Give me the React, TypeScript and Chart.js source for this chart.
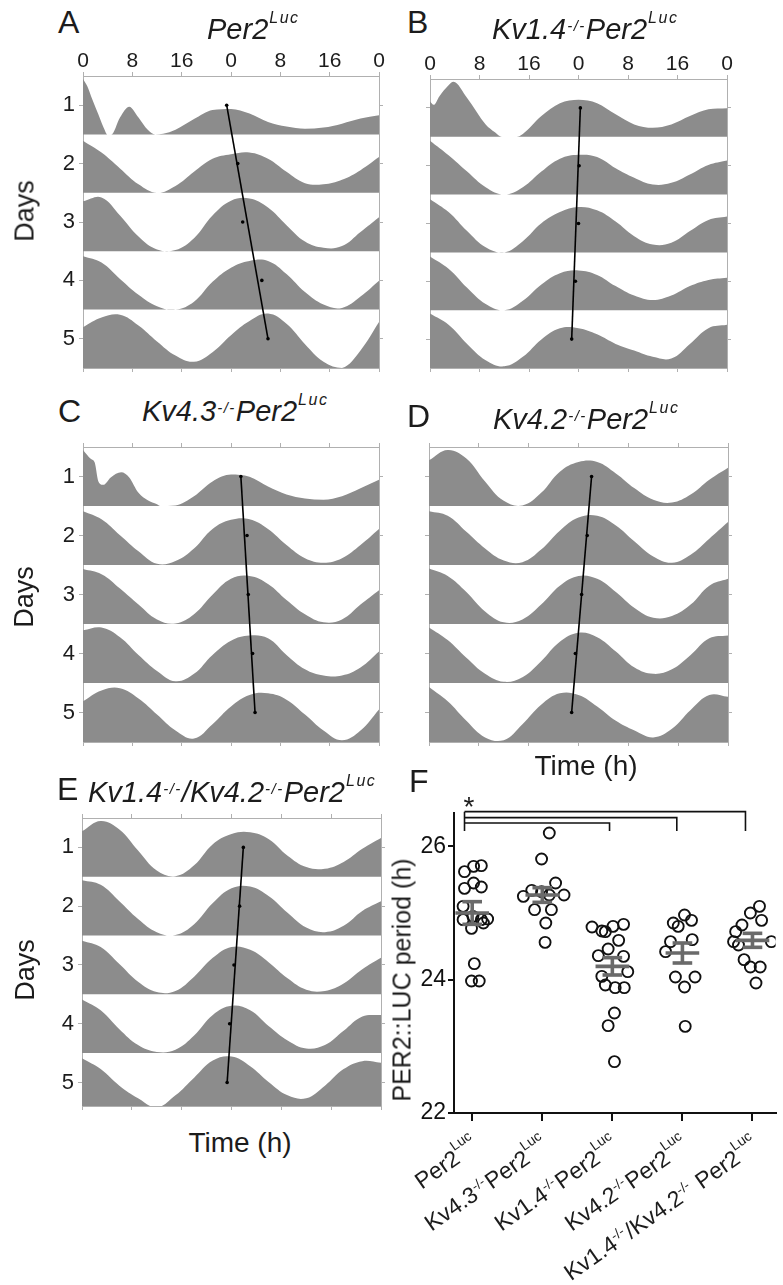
import React, { useEffect, useRef } from 'react';
import { Chart, registerables } from 'chart.js';

Chart.register(...registerables);

const FONT = '"Liberation Sans", Arial, Helvetica, sans-serif';
const FILL = '#8c8c8c';
const AXIS = '#b0b0b0';
const INK = '#1c1c1c';
const AMP = 0.97;

// ---------- shared axes ----------
const HOURS = [0, 3, 6, 9, 12, 15, 18, 21, 24, 27, 30, 33, 36, 39, 42, 45, 48];
const TOP_TICKS = [0, 8, 16, 24, 32, 40, 48];
const DAY_TICKS = [1, 2, 3, 4, 5];

// ---------- Panel A: Per2Luc (fraction of row height) ----------
const A1_HOURS = [0, 0.7, 1.5, 2.5, 3.5, 3.9, 4.6, 6, 7.5, 9, 10.5, 11.7, 13, 15, 18, 21, 24, 27, 30, 33, 36, 39, 42, 45, 48];
const A1 = [0.98, 0.85, 0.62, 0.35, 0.08, 0, 0, 0.3, 0.49, 0.3, 0.08, 0, 0.01, 0.08, 0.27, 0.43, 0.45, 0.37, 0.22, 0.14, 0.1, 0.12, 0.19, 0.28, 0.34];
const A2 = [0.92, 0.71, 0.43, 0.15, 0, 0.12, 0.37, 0.6, 0.68, 0.71, 0.6, 0.37, 0.17, 0.15, 0.23, 0.4, 0.63];
const A3 = [0.88, 0.95, 0.63, 0.26, 0.03, 0.02, 0.23, 0.63, 0.89, 0.93, 0.77, 0.46, 0.17, 0.06, 0.09, 0.34, 0.6];
const A4 = [0.94, 0.83, 0.54, 0.26, 0.06, 0, 0.14, 0.49, 0.74, 0.86, 0.86, 0.63, 0.31, 0.09, 0.03, 0.23, 0.51];
const A5 = [0.72, 0.89, 0.94, 0.75, 0.47, 0.22, 0.11, 0.28, 0.58, 0.83, 0.96, 0.78, 0.42, 0.11, 0, 0.31, 0.81];
const A_PHASE = [23.3, 25.1, 25.9, 29.0, 30.0];
const A_FIT = [23.3, 30.0];

// ---------- Panel B: Kv1.4-/- ----------
const B1_HOURS = [0, 0.6, 1.5, 3, 3.8, 6, 9, 10.5, 11.6, 14, 15, 18, 21, 24, 27, 30, 33, 36, 39, 42, 45, 48];
const B1 = [0.63, 0.57, 0.72, 0.92, 0.98, 0.69, 0.22, 0.08, 0, 0, 0.05, 0.37, 0.6, 0.66, 0.6, 0.4, 0.22, 0.16, 0.22, 0.37, 0.49, 0.51];
const B2 = [0.96, 0.7, 0.41, 0.13, 0, 0.13, 0.41, 0.64, 0.71, 0.67, 0.47, 0.3, 0.18, 0.21, 0.36, 0.53, 0.61];
const B3 = [0.95, 0.72, 0.38, 0.09, 0, 0.2, 0.52, 0.72, 0.81, 0.75, 0.55, 0.29, 0.14, 0.17, 0.38, 0.58, 0.64];
const B4 = [0.96, 0.74, 0.4, 0.11, 0, 0.17, 0.46, 0.66, 0.71, 0.63, 0.43, 0.26, 0.18, 0.26, 0.43, 0.54, 0.58];
const B5 = [0.97, 0.77, 0.43, 0.14, 0.03, 0.2, 0.51, 0.71, 0.71, 0.6, 0.43, 0.31, 0.2, 0.17, 0.43, 0.71, 0.77];
const B_PHASE = [24.3, 24.1, 24.0, 23.5, 22.9];
const B_FIT = [24.3, 22.9];

// ---------- Panel C: Kv4.3-/- ----------
const C1_HOURS = [0, 1.3, 1.9, 2.5, 3.3, 4.5, 6.2, 7.5, 9, 10.5, 12, 12.5, 15, 18, 21, 24, 27, 30, 33, 36, 39, 42, 45, 48];
const C1 = [0.98, 0.82, 0.76, 0.43, 0.37, 0.5, 0.59, 0.5, 0.23, 0.1, 0.03, 0, 0.01, 0.17, 0.43, 0.55, 0.51, 0.34, 0.2, 0.13, 0.11, 0.17, 0.31, 0.46];
const C2 = [0.94, 0.8, 0.52, 0.24, 0.02, 0.07, 0.29, 0.63, 0.79, 0.8, 0.63, 0.35, 0.12, 0.04, 0.12, 0.35, 0.63];
const C3 = [0.96, 0.87, 0.62, 0.34, 0.08, 0.01, 0.17, 0.51, 0.79, 0.84, 0.7, 0.42, 0.17, 0.03, 0.08, 0.34, 0.59];
const C4 = [0.92, 0.97, 0.8, 0.49, 0.21, 0.03, 0.16, 0.49, 0.74, 0.83, 0.78, 0.49, 0.24, 0.13, 0.13, 0.27, 0.55];
const C5 = [0.71, 0.9, 0.94, 0.76, 0.48, 0.2, 0.06, 0.31, 0.62, 0.82, 0.85, 0.74, 0.48, 0.2, 0.03, 0.2, 0.57];
const C_PHASE = [25.6, 26.6, 26.8, 27.5, 27.9];
const C_FIT = [25.6, 27.9];

// ---------- Panel D: Kv4.2-/- ----------
const D1 = [0.8, 0.98, 0.83, 0.43, 0.09, 0.01, 0.23, 0.6, 0.77, 0.77, 0.57, 0.31, 0.11, 0.06, 0.2, 0.46, 0.67];
const D2 = [0.94, 0.86, 0.58, 0.29, 0.08, 0.05, 0.27, 0.6, 0.83, 0.86, 0.69, 0.41, 0.15, 0.04, 0.18, 0.46, 0.75];
const D3 = [0.97, 0.84, 0.56, 0.22, 0.03, 0.08, 0.34, 0.67, 0.84, 0.79, 0.56, 0.28, 0.11, 0.14, 0.34, 0.67, 0.79];
const D4 = [0.97, 0.75, 0.44, 0.16, 0.02, 0.1, 0.38, 0.72, 0.88, 0.8, 0.55, 0.27, 0.16, 0.24, 0.49, 0.78, 0.83];
const D5 = [0.96, 0.71, 0.37, 0.08, 0.03, 0.31, 0.65, 0.85, 0.82, 0.62, 0.37, 0.2, 0.08, 0.23, 0.56, 0.82, 0.79];
const D_PHASE = [26.1, 25.4, 24.5, 23.5, 22.9];
const D_FIT = [26.1, 22.9];

// ---------- Panel E: Kv1.4-/-/Kv4.2-/- ----------
const E1 = [0.8, 0.98, 0.83, 0.46, 0.11, 0.01, 0.2, 0.57, 0.75, 0.78, 0.66, 0.37, 0.17, 0.14, 0.26, 0.49, 0.68];
const E2 = [0.97, 0.89, 0.6, 0.29, 0.06, 0.01, 0.2, 0.57, 0.83, 0.86, 0.69, 0.4, 0.14, 0.06, 0.17, 0.43, 0.6];
const E3 = [0.94, 0.83, 0.53, 0.22, 0.04, 0.06, 0.31, 0.64, 0.83, 0.78, 0.56, 0.28, 0.08, 0.06, 0.19, 0.44, 0.64];
const E4 = [0.94, 0.75, 0.42, 0.14, 0.02, 0.06, 0.31, 0.67, 0.83, 0.75, 0.47, 0.22, 0.08, 0.14, 0.39, 0.64, 0.67];
const E5 = [0.94, 0.75, 0.46, 0.24, 0.08, 0.29, 0.6, 0.9, 0.97, 0.8, 0.52, 0.29, 0.24, 0.46, 0.75, 0.89, 0.86];
const E_PHASE = [25.9, 25.3, 24.4, 23.7, 23.3];
const E_FIT = [25.9, 23.3];

// ---------- Panel F: periods (h) ----------
const F_TICKS = [22, 24, 26];
const F_PER2 = [25.62, 25.7, 25.71, 25.37, 25.45, 25.39, 25.1, 24.9, 24.95, 24.9, 24.91, 24.77, 24.85, 24.24, 23.98, 23.98];
const F_PER2_JIT = [-0.11, 0.02, 0.13, -0.11, 0.02, 0.13, -0.13, -0.13, 0.01, 0.13, 0.22, -0.01, 0.16, 0.03, -0.01, 0.1];
const F_KV43 = [26.2, 25.81, 25.45, 25.25, 25.34, 25.32, 25.27, 25.27, 25.05, 25.05, 24.85, 24.56];
const F_KV43_JIT = [0.1, -0.01, 0.19, -0.27, -0.15, -0.01, 0.1, 0.31, -0.11, 0.13, 0.05, 0.04];
const F_KV14 = [24.79, 24.73, 24.72, 24.8, 24.83, 24.59, 24.46, 24.36, 24.35, 24.12, 24.05, 23.92, 23.88, 23.88, 23.5, 23.31, 22.77];
const F_KV14_JIT = [-0.29, -0.15, -0.1, 0.01, 0.16, 0.09, -0.06, -0.2, 0.16, 0.22, -0.15, -0.1, 0.04, 0.17, 0.03, -0.06, 0.03];
const F_KV42 = [24.85, 24.97, 24.89, 24.8, 24.57, 24.42, 24.6, 24.04, 24.04, 23.89, 23.3];
const F_KV42_JIT = [-0.13, 0.03, 0.13, -0.06, -0.17, -0.24, 0.14, -0.1, 0.18, 0.03, 0.04];
const F_DKO = [25.1, 25.0, 24.89, 24.82, 24.72, 24.57, 24.52, 24.57, 24.3, 24.19, 24.19, 23.95];
const F_DKO_JIT = [0.1, -0.03, 0.13, -0.15, -0.24, -0.27, -0.2, 0.27, -0.12, -0.03, 0.11, 0.05];
const F_MEAN = [25.0, 25.27, 24.2, 24.4, 24.59];
const F_SEM = [0.17, 0.11, 0.13, 0.15, 0.105];
const BRACKET_LEFT = -0.11;
const BRACKET_RIGHT = [1.96, 2.92, 3.9];
const BRACKET_Y = [26.35, 26.43, 26.52];
const BRACKET_DROP = 26.23;
const F_LABELS: [string, number][][] = [
  [['Per2', 0], ['Luc', 2]],
  [['Kv4.3', 0], ['-/-', 1], ['Per2', 0], ['Luc', 2]],
  [['Kv1.4', 0], ['-/-', 1], ['Per2', 0], ['Luc', 2]],
  [['Kv4.2', 0], ['-/-', 1], ['Per2', 0], ['Luc', 2]],
  [['Kv1.4', 0], ['-/-', 1], ['/Kv4.2', 0], ['-/-', 1], [' Per2', 0], ['Luc', 2]],
];

// ---------- helpers ----------
function zeroPad(s: any) {
  s.paddingLeft = 0;
  s.paddingRight = 0;
  s.paddingTop = 0;
  s.paddingBottom = 0;
}

type Row = { hours: number[]; values: number[]; transient?: boolean };
type PanelCfg = {
  rows: Row[];
  phase: number[];
  fit: number[];
  rowLabels: boolean;
  topLabels: boolean;
  yMax: number;
  box: { left: number; top: number; width: number; height: number };
  axes: { left: number; top: number; right: number; bottom: number };
};

function actoConfig(cfg: PanelCfg): any {
  const datasets: any[] = [];
  cfg.rows.forEach((r, k) => {
    const base = k + 1.5;
    datasets.push({
      data: r.hours.map((h, j) => ({ x: h, y: base - AMP * r.values[j] })),
      fill: { value: base },
      backgroundColor: FILL,
      borderColor: FILL,
      borderWidth: 0,
      pointRadius: 0,
      cubicInterpolationMode: r.transient ? 'monotone' : 'default',
      tension: 0.4,
      order: 10,
    });
  });
  datasets.push({
    data: [
      { x: cfg.fit[0], y: DAY_TICKS[0] },
      { x: cfg.fit[1], y: DAY_TICKS[4] },
    ],
    borderColor: '#000',
    borderWidth: 1.6,
    pointRadius: 0,
    fill: false,
    order: 1,
  });
  datasets.push({
    data: cfg.phase.map((p, k) => ({ x: p, y: DAY_TICKS[k] })),
    showLine: false,
    pointRadius: 1.8,
    pointBackgroundColor: '#000',
    pointBorderWidth: 0,
    fill: false,
    order: 0,
  });
  const grid = { drawOnChartArea: false, drawTicks: true, tickLength: 4, color: AXIS, lineWidth: 1 };
  const border = { display: true, color: AXIS, width: 1 };
  const hx = (s: any) => { s.ticks = TOP_TICKS.map((v) => ({ value: v })); };
  const hy = (s: any) => { s.ticks = DAY_TICKS.map((v) => ({ value: v })); };
  return {
    type: 'line',
    data: { datasets },
    options: {
      animation: false,
      responsive: false,
      devicePixelRatio: 1,
      events: [],
      layout: { padding: 0 },
      plugins: { legend: { display: false }, tooltip: { enabled: false } },
      scales: {
        x: {
          type: 'linear', position: 'top', min: 0, max: 48,
          afterBuildTicks: hx,
          ticks: {
            display: cfg.topLabels, autoSkip: false, maxRotation: 0, padding: -2,
            color: INK, font: { family: FONT, size: 21 },
            callback: (v: any) => String(Number(v) % 24),
          },
          grid, border,
          afterFit: (s: any) => { s.height = cfg.axes.top; zeroPad(s); },
        },
        x2: {
          type: 'linear', position: 'bottom', min: 0, max: 48,
          afterBuildTicks: hx,
          ticks: { display: false },
          grid, border,
          afterFit: (s: any) => { s.height = cfg.axes.bottom; zeroPad(s); },
        },
        y: {
          type: 'linear', position: 'left', reverse: true, min: 0.5, max: cfg.yMax,
          afterBuildTicks: hy,
          ticks: { display: cfg.rowLabels, padding: 4, color: INK, font: { family: FONT, size: 22 } },
          grid, border,
          afterFit: (s: any) => { s.width = cfg.axes.left; zeroPad(s); },
        },
        y2: {
          type: 'linear', position: 'right', reverse: true, min: 0.5, max: cfg.yMax,
          afterBuildTicks: hy,
          ticks: { display: false },
          grid, border,
          afterFit: (s: any) => { s.width = cfg.axes.right; zeroPad(s); },
        },
      },
    },
  };
}

function rows(first: Row, rest: number[][]): Row[] {
  return [first, ...rest.map((v) => ({ hours: HOURS, values: v }))];
}

const PANELS: PanelCfg[] = [
  {
    rows: rows({ hours: A1_HOURS, values: A1, transient: true }, [A2, A3, A4, A5]),
    phase: A_PHASE, fit: A_FIT, rowLabels: true, topLabels: true, yMax: 5.5,
    box: { left: 0, top: 40, width: 395, height: 340 },
    axes: { left: 83, top: 36, right: 16, bottom: 12 },
  },
  {
    rows: rows({ hours: B1_HOURS, values: B1, transient: true }, [B2, B3, B4, B5]),
    phase: B_PHASE, fit: B_FIT, rowLabels: false, topLabels: true, yMax: 5.5,
    box: { left: 400, top: 40, width: 340, height: 340 },
    axes: { left: 30, top: 39, right: 13, bottom: 12 },
  },
  {
    rows: rows({ hours: C1_HOURS, values: C1, transient: true }, [C2, C3, C4, C5]),
    phase: C_PHASE, fit: C_FIT, rowLabels: true, topLabels: false, yMax: 5.5,
    box: { left: 0, top: 430, width: 395, height: 325 },
    axes: { left: 83, top: 17, right: 16, bottom: 13 },
  },
  {
    rows: rows({ hours: HOURS, values: D1 }, [D2, D3, D4, D5]),
    phase: D_PHASE, fit: D_FIT, rowLabels: false, topLabels: false, yMax: 5.5,
    box: { left: 400, top: 430, width: 340, height: 325 },
    axes: { left: 29, top: 17, right: 12, bottom: 13 },
  },
  {
    rows: rows({ hours: HOURS, values: E1 }, [E2, E3, E4, E5]),
    phase: E_PHASE, fit: E_FIT, rowLabels: true, topLabels: false, yMax: 5.4,
    box: { left: 0, top: 800, width: 395, height: 320 },
    axes: { left: 82, top: 18, right: 14, bottom: 14 },
  },
];

function Actogram({ cfg }: { cfg: PanelCfg }) {
  const ref = useRef<HTMLCanvasElement>(null);
  useEffect(() => {
    const chart = new Chart(ref.current as HTMLCanvasElement, actoConfig(cfg));
    return () => chart.destroy();
  }, []);
  const b = cfg.box;
  return (
    <canvas
      ref={ref}
      width={b.width}
      height={b.height}
      style={{ position: 'absolute', left: b.left, top: b.top, width: b.width, height: b.height }}
    />
  );
}

// ---------- Panel F ----------
const LBL_ANGLE = (35 * Math.PI) / 180;
const LBL_MAIN = 23;
const LBL_SUP = 14;

const fLabelPlugin = {
  id: 'fLabels',
  afterDraw(chart: any) {
    const ctx = chart.ctx;
    const xs = chart.scales.x;
    const bottom = chart.chartArea.bottom;
    const mainF = `${LBL_MAIN}px ${FONT}`;
    const supF = `${LBL_SUP}px ${FONT}`;
    F_LABELS.forEach((segs, i) => {
      const px = xs.getPixelForValue(i);
      ctx.save();
      ctx.translate(px + 9, bottom + 35);
      ctx.rotate(-LBL_ANGLE);
      ctx.fillStyle = INK;
      ctx.textBaseline = 'alphabetic';
      ctx.textAlign = 'left';
      let w = 0;
      const widths = segs.map(([t, s]) => {
        ctx.font = s ? supF : mainF;
        const ww = ctx.measureText(t).width + (s ? 1.5 : 0);
        w += ww;
        return ww;
      });
      let x = -w;
      segs.forEach(([t, s], k) => {
        ctx.font = s ? supF : mainF;
        const rise = s === 2 ? 13 : s === 1 ? 8 : 0;
        ctx.fillText(t, x, -rise);
        x += widths[k];
      });
      ctx.restore();
    });
  },
};

function fConfig(): any {
  const groups = [
    [F_PER2, F_PER2_JIT],
    [F_KV43, F_KV43_JIT],
    [F_KV14, F_KV14_JIT],
    [F_KV42, F_KV42_JIT],
    [F_DKO, F_DKO_JIT],
  ];
  const datasets: any[] = [];
  groups.forEach(([vals, jit], i) => {
    datasets.push({
      data: vals.map((v, j) => ({ x: i + jit[j], y: v })),
      showLine: false,
      pointRadius: 5.5,
      pointBorderWidth: 1.9,
      pointBorderColor: '#111',
      pointBackgroundColor: 'rgba(0,0,0,0)',
      order: 2,
    });
  });
  const seg = (pts: { x: number; y: number }[], color: string, width: number, order: number) => ({
    data: pts,
    showLine: true,
    borderColor: color,
    borderWidth: width,
    pointRadius: 0,
    fill: false,
    clip: false,
    order,
  });
  F_MEAN.forEach((m, i) => {
    const s = F_SEM[i];
    const MEAN_COL = '#6a6a6a';
    datasets.push(seg([{ x: i - 0.24, y: m }, { x: i + 0.24, y: m }], MEAN_COL, 3.6, 0));
    datasets.push(seg([{ x: i - 0.14, y: m + s }, { x: i + 0.14, y: m + s }], MEAN_COL, 3.6, 0));
    datasets.push(seg([{ x: i - 0.14, y: m - s }, { x: i + 0.14, y: m - s }], MEAN_COL, 3.6, 0));
    datasets.push(seg([{ x: i, y: m - s }, { x: i, y: m + s }], MEAN_COL, 3.6, 0));
  });
  BRACKET_RIGHT.forEach((r, k) => {
    datasets.push(
      seg(
        [
          { x: BRACKET_LEFT, y: BRACKET_Y[k] },
          { x: r, y: BRACKET_Y[k] },
          { x: r, y: BRACKET_DROP },
        ],
        '#111', 1.6, 1,
      ),
    );
  });
  datasets.push(
    seg(
      [
        { x: BRACKET_LEFT, y: BRACKET_Y[2] },
        { x: BRACKET_LEFT, y: BRACKET_DROP },
      ],
      '#111', 1.6, 1,
    ),
  );
  return {
    type: 'scatter',
    data: { datasets },
    plugins: [fLabelPlugin],
    options: {
      animation: false,
      responsive: false,
      devicePixelRatio: 1,
      events: [],
      layout: { padding: { top: 23, left: 0, right: 0, bottom: 0 } },
      plugins: { legend: { display: false }, tooltip: { enabled: false } },
      scales: {
        x: {
          type: 'linear', min: -0.26, max: 4.33,
          afterBuildTicks: (s: any) => { s.ticks = F_MEAN.map((_, i) => ({ value: i })); },
          ticks: { display: false },
          grid: { drawOnChartArea: false, drawTicks: true, tickLength: 8, color: '#111', lineWidth: 2 },
          border: { display: true, color: '#111', width: 2 },
          afterFit: (s: any) => { s.height = 172; zeroPad(s); },
        },
        y: {
          type: 'linear', min: 22, max: 26.5,
          afterBuildTicks: (s: any) => { s.ticks = F_TICKS.map((v) => ({ value: v })); },
          ticks: { padding: 2, color: '#111', font: { family: FONT, size: 23 } },
          grid: { drawOnChartArea: false, drawTicks: true, tickLength: 6, color: '#111', lineWidth: 2 },
          border: { display: true, color: '#111', width: 2 },
          afterFit: (s: any) => { s.width = 74; zeroPad(s); },
        },
      },
    },
  };
}

function PeriodChart() {
  const ref = useRef<HTMLCanvasElement>(null);
  useEffect(() => {
    const chart = new Chart(ref.current as HTMLCanvasElement, fConfig());
    return () => chart.destroy();
  }, []);
  return (
    <canvas
      ref={ref}
      width={403}
      height={495}
      style={{ position: 'absolute', left: 380, top: 790, width: 403, height: 495 }}
    />
  );
}

// ---------- text overlays ----------
const BASE = 0.8465;

function Letter({ ch, left, baseline }: { ch: string; left: number; baseline: number }) {
  const size = 32;
  return (
    <div style={{ position: 'absolute', left, top: baseline - BASE * size, fontFamily: FONT, fontSize: size, lineHeight: 1, color: INK }}>
      {ch}
    </div>
  );
}

function Title({ segs, left, baseline }: { segs: [string, number][]; left: number; baseline: number }) {
  const size = 29;
  return (
    <div
      style={{
        position: 'absolute', left, top: baseline - BASE * size, fontFamily: FONT, fontSize: size,
        lineHeight: 1, fontStyle: 'italic', whiteSpace: 'nowrap', color: INK,
      }}
    >
      {segs.map(([t, s], i) =>
        s === 0 ? (
          <span key={i}>{t}</span>
        ) : (
          <span
            key={i}
            style={{ fontSize: s === 2 ? 16 : 15, position: 'relative', top: s === 2 ? -16 : -8, letterSpacing: 1.5, marginLeft: 1 }}
          >
            {t}
          </span>
        ),
      )}
    </div>
  );
}

function VText({ text, cx, cy, size }: { text: string; cx: number; cy: number; size: number }) {
  return (
    <div
      style={{
        position: 'absolute', left: cx, top: cy, fontFamily: FONT, fontSize: size, lineHeight: 1,
        whiteSpace: 'nowrap', color: INK, transform: 'translate(-50%, -50%) rotate(-90deg)',
      }}
    >
      {text}
    </div>
  );
}

function HText({ text, cx, baseline, size }: { text: string; cx: number; baseline: number; size: number }) {
  return (
    <div
      style={{
        position: 'absolute', left: cx, top: baseline - BASE * size, fontFamily: FONT, fontSize: size,
        lineHeight: 1, whiteSpace: 'nowrap', color: INK, transform: 'translateX(-50%)',
      }}
    >
      {text}
    </div>
  );
}

export default function App() {
  return (
    <div style={{ position: 'absolute', left: 0, top: 0, width: 783, height: 1285, background: '#fff', overflow: 'hidden' }}>
      {PANELS.map((p, i) => (
        <Actogram key={i} cfg={p} />
      ))}
      <PeriodChart />

      <Letter ch="A" left={58} baseline={33} />
      <Letter ch="B" left={407} baseline={33} />
      <Letter ch="C" left={58} baseline={422} />
      <Letter ch="D" left={407} baseline={427} />
      <Letter ch="E" left={57} baseline={800} />
      <Letter ch="F" left={409} baseline={792} />

      <Title left={207} baseline={40} segs={[['Per2', 0], ['Luc', 2]]} />
      <Title left={492} baseline={40} segs={[['Kv1.4', 0], ['-/-', 1], ['Per2', 0], ['Luc', 2]]} />
      <Title left={142} baseline={422} segs={[['Kv4.3', 0], ['-/-', 1], ['Per2', 0], ['Luc', 2]]} />
      <Title left={493} baseline={430} segs={[['Kv4.2', 0], ['-/-', 1], ['Per2', 0], ['Luc', 2]]} />
      <Title left={88} baseline={803} segs={[['Kv1.4', 0], ['-/-', 1], ['/Kv4.2', 0], ['-/-', 1], ['Per2', 0], ['Luc', 2]]} />

      <VText text="Days" cx={25} cy={211} size={27} />
      <VText text="Days" cx={24} cy={597} size={27} />
      <VText text="Days" cx={25} cy={970} size={27} />
      <HText text="Time (h)" cx={586} baseline={776} size={28} />
      <HText text="Time (h)" cx={240} baseline={1153} size={28} />
      <VText text="PER2::LUC period (h)" cx={402} cy={980} size={25} />
      <div style={{ position: 'absolute', left: 469, top: 793, transform: 'translateX(-50%)', fontFamily: FONT, fontSize: 28, lineHeight: 1, color: INK }}>
        *
      </div>
    </div>
  );
}
